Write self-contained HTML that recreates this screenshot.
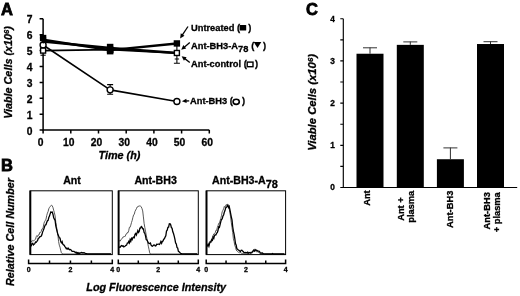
<!DOCTYPE html>
<html><head><meta charset="utf-8"><style>
html,body{margin:0;padding:0;background:#fff;}
svg{display:block;}
text,tspan{font-family:"Liberation Sans",Arial,sans-serif;font-weight:bold;fill:#000;stroke:#000;stroke-width:0.3px;}
.L{font-size:16.5px;stroke:#000;stroke-width:0.8px;}
.tA{font-size:10.3px;}
.tB{font-size:7px;}
.tC{font-size:8.3px;}
.lab{font-size:10.8px;font-style:italic;}
.leg{font-size:9.3px;}
.ttl{font-size:10.6px;}
.bl{font-size:9.3px;}
.ax{fill:none;stroke:#000;stroke-width:1.5;}
.eb{fill:none;stroke:#000;stroke-width:1.1;}
</style></head><body>
<svg width="520" height="296" viewBox="0 0 520 296">
<text x="1" y="14.6" class="L">A</text>
<text x="1" y="171" class="L">B</text>
<text x="306" y="15.2" class="L">C</text>
<path d="M43.1 18.8V130.1H209.3" class="ax"/>
<path d="M39.6 130.1H43.1M39.6 114.2H43.1M39.6 98.3H43.1M39.6 82.4H43.1M39.6 66.5H43.1M39.6 50.6H43.1M39.6 34.7H43.1M39.6 18.8H43.1M43.1 130.1V133.4M70.8 130.1V133.4M98.5 130.1V133.4M126.2 130.1V133.4M153.9 130.1V133.4M181.6 130.1V133.4M209.3 130.1V133.4" class="ax"/>
<text x="32.6" y="134.7" class="tA" text-anchor="end">0</text>
<text x="32.6" y="118.8" class="tA" text-anchor="end">1</text>
<text x="32.6" y="102.9" class="tA" text-anchor="end">2</text>
<text x="32.6" y="87" class="tA" text-anchor="end">3</text>
<text x="32.6" y="71.1" class="tA" text-anchor="end">4</text>
<text x="32.6" y="55.2" class="tA" text-anchor="end">5</text>
<text x="32.6" y="39.3" class="tA" text-anchor="end">6</text>
<text x="32.6" y="23.4" class="tA" text-anchor="end">7</text>
<text x="40.7" y="145.9" class="tA" text-anchor="middle">0</text>
<text x="68.8" y="145.9" class="tA" text-anchor="middle">10</text>
<text x="96.5" y="145.9" class="tA" text-anchor="middle">20</text>
<text x="124.2" y="145.9" class="tA" text-anchor="middle">30</text>
<text x="151.9" y="145.9" class="tA" text-anchor="middle">40</text>
<text x="179.6" y="145.9" class="tA" text-anchor="middle">50</text>
<text x="207.3" y="145.9" class="tA" text-anchor="middle">60</text>
<text x="119.5" y="158.5" class="lab" text-anchor="middle">Time (h)</text>
<text transform="translate(12.2 72.5) rotate(-90)" class="lab" text-anchor="middle">Viable Cells (x10<tspan dy="-3.5" font-size="7.6">6</tspan><tspan dy="3.5">)</tspan></text>
<polyline points="43.1,45.03 110.13,89.87 176.89,101.48" fill="none" stroke="#000" stroke-width="1.6" stroke-linejoin="round"/>
<polyline points="43.1,50.6 110.13,49.65 176.89,52.98" fill="none" stroke="#000" stroke-width="1.8" stroke-linejoin="round"/>
<polyline points="43.1,41.54 110.13,48.06 176.89,52.98" fill="none" stroke="#000" stroke-width="2.4" stroke-linejoin="round"/>
<polyline points="43.1,39.79 110.13,50.12 176.89,43.44" fill="none" stroke="#000" stroke-width="2.4" stroke-linejoin="round"/>
<path d="M107.13 84.6H113.13M110.13 84.6V94.3M107.13 94.3H113.13" class="eb"/>
<path d="M176.89 45V63.2M174.69 59H179.09M173.89 63.2H179.89" class="eb"/>
<circle cx="43.1" cy="45.03" r="3.0" fill="#fff" stroke="#000" stroke-width="1.4"/>
<circle cx="110.13" cy="89.87" r="3.0" fill="#fff" stroke="#000" stroke-width="1.4"/>
<circle cx="176.89" cy="101.48" r="3.0" fill="#fff" stroke="#000" stroke-width="1.4"/>
<path d="M39.6 37.78H46.6L43.1 44.08Z" fill="#000"/>
<rect x="40.6" y="48.1" width="5" height="5" fill="#fff" stroke="#000" stroke-width="1.4"/>
<rect x="107.63" y="47.15" width="5" height="5" fill="#fff" stroke="#000" stroke-width="1.4"/>
<rect x="174.39" y="50.48" width="5" height="5" fill="#fff" stroke="#000" stroke-width="1.4"/>
<rect x="39.9" y="34.84" width="6.4" height="6.4" fill="#000"/>
<rect x="106.93" y="46.92" width="6.4" height="6.4" fill="#000"/>
<rect x="173.69" y="40.24" width="6.4" height="6.4" fill="#000"/>
<path d="M40.5 55.2H45.7" class="eb"/>
<rect x="106.88" y="43.8" width="6.5" height="10.6" fill="#000"/>
<path d="M188 26.5L182.09 35.4" stroke="#000" stroke-width="1.3" fill="none"/><path d="M180.1 38.4L180.81 33.35L184.48 35.78Z" fill="#000"/>
<path d="M189.8 42.6L183.98 47.41" stroke="#000" stroke-width="1.3" fill="none"/><path d="M181.2 49.7L183.35 45.07L186.15 48.47Z" fill="#000"/>
<path d="M189.8 62.4L184.47 58.37" stroke="#000" stroke-width="1.3" fill="none"/><path d="M181.6 56.2L186.6 57.22L183.94 60.73Z" fill="#000"/>
<path d="M189.2 100.8L185.49 101" stroke="#000" stroke-width="1.3" fill="none"/><path d="M181.9 101.2L186.38 98.85L186.61 103.05Z" fill="#000"/>
<text x="191" y="30.9" class="leg">Untreated (</text><rect x="239.6" y="25" width="6.6" height="5.5" rx="0.5" fill="#000"/><text x="248.2" y="30.9" class="leg">)</text>
<text x="191" y="48.5" class="leg">Ant-BH3-A<tspan dy="3.2">78</tspan></text><text x="251.3" y="48.5" class="leg">(</text><path d="M253.7 42H261.3L257.5 47.9Z" fill="#000"/><text x="263" y="48.5" class="leg">)</text>
<text x="191" y="67.4" class="leg">Ant-control (</text><rect x="247.2" y="62.1" width="5.8" height="4.6" fill="#fff" stroke="#000" stroke-width="1.4"/><text x="254.9" y="67.4" class="leg">)</text>
<text x="190" y="104.3" class="leg">Ant-BH3 (</text><ellipse cx="236.2" cy="101.8" rx="3.1" ry="2.6" fill="none" stroke="#000" stroke-width="1.6"/><text x="241.9" y="104.3" class="leg">)</text>
<text x="72" y="184" class="ttl" text-anchor="middle">Ant</text>
<path d="M30.6 240.18 L31.3 241.73 L32 241.57 L32.7 240.43 L33.4 240.8 L34.1 240.32 L34.8 240.03 L35.5 239.34 L36.2 236.74 L36.9 235.59 L37.6 236.55 L38.3 234.96 L39 234.99 L39.7 232.5 L40.4 232.45 L41.1 231.77 L41.8 229.2 L42.5 229.14 L43.2 227.29 L43.9 223.53 L44.6 221.55 L45.3 220.49 L46 219.1 L46.7 215.65 L47.4 213.18 L48.1 211.56 L48.8 208.73 L49.5 207.39 L50.2 206.42 L50.9 205.73 L51.6 205.17 L52.3 205.99 L53 207.64 L53.7 210.38 L54.4 212.79 L55.1 215.97 L55.8 222.41 L56.5 226.53 L57.2 231.61 L57.9 235.23 L58.6 241.55 L59.3 245.15 L60 247.2 L60.7 250.24 L61.4 252.71 L62.1 253.63 L62.8 253.96 L63.5 254 L64.2 254 L64.9 254 L65.6 254 L66.3 254 L67 254 L67.7 254 L68.4 254 L69.1 254 L69.8 254 L70.5 254 L71.2 254 L71.9 254 L72.6 254 L73.3 254 L74 254 L74.7 254 L75.4 254 L76.1 254 L76.8 254 L77.5 254 L78.2 254 L78.9 254 L79.6 254 L80.3 254 L81 254 L81.7 254 L82.4 254 L83.1 254 L83.8 254 L84.5 254 L85.2 254 L85.9 254 L86.6 254 L87.3 254 L88 254 L88.7 254 L89.4 254 L90.1 254 L90.8 254 L91.5 254 L92.2 254 L92.9 254 L93.6 254 L94.3 254 L95 254 L95.7 254 L96.4 254 L97.1 254 L97.8 254 L98.5 254 L99.2 254 L99.9 254 L100.6 254 L101.3 254 L102 254 L102.7 254 L103.4 254 L104.1 254 L104.8 254 L105.5 254 L106.2 254 L106.9 254 L107.6 254 L108.3 254 L109 254 L109.7 254 L110.4 254 L111.1 254" fill="none" stroke="#3a3a3a" stroke-width="0.85"/>
<path d="M30.6 246.06 L31.3 245.85 L32 243.49 L32.7 243.35 L33.4 244.97 L34.1 244.35 L34.8 243.68 L35.5 242.07 L36.2 242.19 L36.9 241.43 L37.6 240.51 L38.3 238.29 L39 238.07 L39.7 236.86 L40.4 236.7 L41.1 236.31 L41.8 234.9 L42.5 232.34 L43.2 230.64 L43.9 228.67 L44.6 226.49 L45.3 224.93 L46 224.66 L46.7 222.52 L47.4 220.82 L48.1 220.43 L48.8 217.54 L49.5 216.06 L50.2 213.66 L50.9 211.91 L51.6 212.25 L52.3 212.05 L53 214.45 L53.7 217.78 L54.4 219.15 L55.1 220.5 L55.8 225.82 L56.5 228.78 L57.2 231.58 L57.9 234.54 L58.6 236.05 L59.3 237.78 L60 238.06 L60.7 241.5 L61.4 242.79 L62.1 241.67 L62.8 244.17 L63.5 244.85 L64.2 245.22 L64.9 246.56 L65.6 247.4 L66.3 248.7 L67 248.15 L67.7 248.97 L68.4 248.23 L69.1 249.43 L69.8 249.78 L70.5 249.46 L71.2 250.15 L71.9 251.2 L72.6 251.32 L73.3 251.37 L74 251.39 L74.7 251.88 L75.4 252.62 L76.1 252.15 L76.8 253.24 L77.5 252.59 L78.2 253.45 L78.9 252.77 L79.6 253.49 L80.3 253.02 L81 252.59 L81.7 252.52 L82.4 252.76 L83.1 252.86 L83.8 252.74 L84.5 252.83 L85.2 253.35 L85.9 253.53 L86.6 253.71 L87.3 253.88 L88 254 L88.7 254 L89.4 254 L90.1 254 L90.8 254 L91.5 254 L92.2 254 L92.9 254 L93.6 254 L94.3 254 L95 254 L95.7 254 L96.4 254 L97.1 254 L97.8 254 L98.5 254 L99.2 254 L99.9 254 L100.6 254 L101.3 254 L102 254 L102.7 254 L103.4 254 L104.1 254 L104.8 254 L105.5 254 L106.2 254 L106.9 254 L107.6 254 L108.3 254 L109 254 L109.7 254 L110.4 254 L111.1 254" fill="none" stroke="#000" stroke-width="1.3"/>
<rect x="30" y="190.8" width="82.3" height="63.8" fill="none" stroke="#000" stroke-width="1"/>
<path d="M30.4 190.8V254.6" stroke="#000" stroke-width="1.8"/>
<path d="M28.6 259.6V263.5H112.3V259.6M49.52 260.5V263.5M70.45 260.5V263.5M91.38 260.5V263.5" class="ax"/>
<text x="28.6" y="271.9" class="tB" text-anchor="middle">0</text>
<text x="70.45" y="271.9" class="tB" text-anchor="middle">2</text>
<text x="112.3" y="271.9" class="tB" text-anchor="middle">4</text>
<text x="155.6" y="184" class="ttl" text-anchor="middle">Ant-BH3</text>
<path d="M118.9 240.9 L119.6 240.8 L120.3 241.04 L121 239.42 L121.7 238.87 L122.4 238.37 L123.1 236.8 L123.8 236.83 L124.5 236.51 L125.2 236.36 L125.9 234.28 L126.6 234.03 L127.3 232.56 L128 232.74 L128.7 230.74 L129.4 227.32 L130.1 227.29 L130.8 225.15 L131.5 222.48 L132.2 220.38 L132.9 217.31 L133.6 214.97 L134.3 214.15 L135 211.33 L135.7 210.03 L136.4 208.73 L137.1 207.04 L137.8 206.92 L138.5 206.03 L139.2 206.4 L139.9 205.55 L140.6 206.29 L141.3 207 L142 208.61 L142.7 210.91 L143.4 216.91 L144.1 223.31 L144.8 227.37 L145.5 231.05 L146.2 235.04 L146.9 238.43 L147.6 242.25 L148.3 246.14 L149 249.29 L149.7 252.83 L150.4 254 L151.1 254 L151.8 254 L152.5 254 L153.2 254 L153.9 254 L154.6 254 L155.3 254 L156 254 L156.7 254 L157.4 254 L158.1 254 L158.8 254 L159.5 254 L160.2 254 L160.9 254 L161.6 254 L162.3 254 L163 254 L163.7 254 L164.4 254 L165.1 254 L165.8 254 L166.5 254 L167.2 254 L167.9 254 L168.6 254 L169.3 254 L170 254 L170.7 254 L171.4 254 L172.1 254 L172.8 254 L173.5 254 L174.2 254 L174.9 254 L175.6 254 L176.3 254 L177 254 L177.7 254 L178.4 254 L179.1 254 L179.8 254 L180.5 254 L181.2 254 L181.9 254 L182.6 254 L183.3 254 L184 254 L184.7 254 L185.4 254 L186.1 254 L186.8 254 L187.5 254 L188.2 254 L188.9 254 L189.6 254 L190.3 254 L191 254 L191.7 254 L192.4 254 L193.1 254 L193.8 254 L194.5 254 L195.2 254 L195.9 254 L196.6 254 L197.3 254" fill="none" stroke="#3a3a3a" stroke-width="0.85"/>
<path d="M118.9 246.95 L119.6 247.26 L120.3 247.17 L121 245.94 L121.7 245.51 L122.4 246.14 L123.1 245.81 L123.8 246.88 L124.5 246.44 L125.2 245.96 L125.9 245.43 L126.6 245.09 L127.3 243.08 L128 243.05 L128.7 241.5 L129.4 242.88 L130.1 239.69 L130.8 241.3 L131.5 238.4 L132.2 239.54 L132.9 237.75 L133.6 237.14 L134.3 237.58 L135 234.19 L135.7 233.37 L136.4 235 L137.1 232.87 L137.8 230.7 L138.5 232.47 L139.2 231.46 L139.9 228.12 L140.6 228.08 L141.3 226.49 L142 227.08 L142.7 228.81 L143.4 228.81 L144.1 232.44 L144.8 233.2 L145.5 235.91 L146.2 239.59 L146.9 239.89 L147.6 241.28 L148.3 242.86 L149 243.31 L149.7 243.57 L150.4 243.03 L151.1 245.06 L151.8 245.92 L152.5 246.17 L153.2 245.61 L153.9 245.03 L154.6 245.15 L155.3 245.95 L156 245.8 L156.7 244.27 L157.4 244.28 L158.1 244.19 L158.8 244.09 L159.5 244.45 L160.2 243.25 L160.9 241.53 L161.6 243.18 L162.3 241.41 L163 240.98 L163.7 239.26 L164.4 238.78 L165.1 237.09 L165.8 235.78 L166.5 231.1 L167.2 230.26 L167.9 227.24 L168.6 227.19 L169.3 223.78 L170 223.67 L170.7 224.74 L171.4 227.59 L172.1 228.26 L172.8 231.83 L173.5 233.47 L174.2 236.16 L174.9 239.16 L175.6 242.97 L176.3 243.96 L177 247.35 L177.7 248.09 L178.4 251.33 L179.1 251.8 L179.8 252.43 L180.5 253.3 L181.2 253.57 L181.9 253.72 L182.6 253.78 L183.3 253.81 L184 253.85 L184.7 253.95 L185.4 254 L186.1 254 L186.8 254 L187.5 254 L188.2 254 L188.9 254 L189.6 254 L190.3 254 L191 254 L191.7 254 L192.4 254 L193.1 254 L193.8 254 L194.5 254 L195.2 254 L195.9 254 L196.6 254 L197.3 254" fill="none" stroke="#000" stroke-width="1.3"/>
<rect x="118.3" y="190.8" width="80" height="63.8" fill="none" stroke="#000" stroke-width="1"/>
<path d="M118.7 190.8V254.6" stroke="#000" stroke-width="1.8"/>
<path d="M118.3 259.6V263.5H198.3V259.6M138.3 260.5V263.5M158.3 260.5V263.5M178.3 260.5V263.5" class="ax"/>
<text x="118.3" y="271.9" class="tB" text-anchor="middle">0</text>
<text x="158.3" y="271.9" class="tB" text-anchor="middle">2</text>
<text x="198.3" y="271.9" class="tB" text-anchor="middle">4</text>
<text x="245" y="184" class="ttl" text-anchor="middle">Ant-BH3-A<tspan dy="4.2" font-size="11">78</tspan></text>
<path d="M206.8 243.37 L207.5 244.21 L208.2 243.83 L208.9 243.06 L209.6 241.67 L210.3 241.81 L211 240.68 L211.7 238.82 L212.4 237.53 L213.1 235.65 L213.8 233.87 L214.5 233.48 L215.2 232.75 L215.9 230.31 L216.6 230.42 L217.3 227.51 L218 225.7 L218.7 223.34 L219.4 223.4 L220.1 220.59 L220.8 218.43 L221.5 215.37 L222.2 211.78 L222.9 210.34 L223.6 208.82 L224.3 206.48 L225 207.32 L225.7 205.34 L226.4 204.48 L227.1 205.88 L227.8 204.7 L228.5 207.54 L229.2 208.67 L229.9 212.64 L230.6 216.85 L231.3 222.6 L232 227.59 L232.7 232.29 L233.4 238.81 L234.1 241.46 L234.8 245.58 L235.5 247.06 L236.2 249.89 L236.9 250.99 L237.6 251.63 L238.3 252.16 L239 252.38 L239.7 252.85 L240.4 252.57 L241.1 253.1 L241.8 253.28 L242.5 253.41 L243.2 253.51 L243.9 253.61 L244.6 253.71 L245.3 253.79 L246 253.85 L246.7 253.9 L247.4 253.92 L248.1 253.91 L248.8 253.87 L249.5 253.8 L250.2 253.57 L250.9 253.45 L251.6 252.45 L252.3 252.75 L253 252.33 L253.7 251.44 L254.4 251.06 L255.1 250.96 L255.8 250.95 L256.5 251.92 L257.2 251.72 L257.9 251.8 L258.6 252.2 L259.3 253.1 L260 253.22 L260.7 253.5 L261.4 253.73 L262.1 253.94 L262.8 254 L263.5 254 L264.2 254 L264.9 254 L265.6 254 L266.3 254 L267 254 L267.7 254 L268.4 254 L269.1 254 L269.8 254 L270.5 254 L271.2 254 L271.9 254 L272.6 254 L273.3 254 L274 254 L274.7 254 L275.4 254 L276.1 254 L276.8 254 L277.5 254 L278.2 254 L278.9 254 L279.6 254 L280.3 254 L281 254 L281.7 254 L282.4 254 L283.1 254 L283.8 254 L284.5 254" fill="none" stroke="#3a3a3a" stroke-width="0.85"/>
<path d="M206.8 247.03 L207.5 245.05 L208.2 244.52 L208.9 246.31 L209.6 243.33 L210.3 241.89 L211 242.06 L211.7 239.88 L212.4 240.34 L213.1 237.23 L213.8 238.29 L214.5 235.24 L215.2 234.98 L215.9 234.94 L216.6 233.15 L217.3 232.67 L218 230.58 L218.7 226.86 L219.4 227.43 L220.1 224.52 L220.8 221.64 L221.5 219.2 L222.2 219.04 L222.9 216.08 L223.6 215.01 L224.3 212.26 L225 210.61 L225.7 207.82 L226.4 207.2 L227.1 206.31 L227.8 205.05 L228.5 207.42 L229.2 206.41 L229.9 209.64 L230.6 213.41 L231.3 216.79 L232 219.81 L232.7 226.77 L233.4 231.14 L234.1 234.39 L234.8 238.53 L235.5 243.63 L236.2 245.14 L236.9 248.89 L237.6 249.3 L238.3 250.05 L239 250.28 L239.7 250.89 L240.4 251.46 L241.1 250.28 L241.8 250.17 L242.5 251.05 L243.2 251.54 L243.9 252.45 L244.6 252.56 L245.3 252.53 L246 252.9 L246.7 252.75 L247.4 252.21 L248.1 253.33 L248.8 252.53 L249.5 252.62 L250.2 252.54 L250.9 253.05 L251.6 252.79 L252.3 251.75 L253 251.06 L253.7 250.08 L254.4 250.94 L255.1 249.54 L255.8 250.23 L256.5 250.22 L257.2 250.59 L257.9 251.04 L258.6 251.18 L259.3 251.36 L260 252.39 L260.7 253.03 L261.4 253.11 L262.1 252.83 L262.8 253.41 L263.5 253.62 L264.2 253.81 L264.9 253.96 L265.6 254 L266.3 254 L267 254 L267.7 254 L268.4 254 L269.1 254 L269.8 254 L270.5 254 L271.2 254 L271.9 253.81 L272.6 253.5 L273.3 253.93 L274 254 L274.7 254 L275.4 254 L276.1 254 L276.8 254 L277.5 254 L278.2 254 L278.9 254 L279.6 254 L280.3 254 L281 254 L281.7 254 L282.4 254 L283.1 254 L283.8 254 L284.5 254" fill="none" stroke="#000" stroke-width="1.3"/>
<rect x="206.2" y="190.8" width="79.4" height="63.8" fill="none" stroke="#000" stroke-width="1"/>
<path d="M206.6 190.8V254.6" stroke="#000" stroke-width="1.8"/>
<path d="M206.2 259.6V263.5H285.6V259.6M226.05 260.5V263.5M245.9 260.5V263.5M265.75 260.5V263.5" class="ax"/>
<text x="206.2" y="271.9" class="tB" text-anchor="middle">0</text>
<text x="245.9" y="271.9" class="tB" text-anchor="middle">2</text>
<text x="285.6" y="271.9" class="tB" text-anchor="middle">4</text>
<text x="156.2" y="291" class="lab" text-anchor="middle">Log Fluorescence Intensity</text>
<text transform="translate(14.2 232) rotate(-90)" class="lab" text-anchor="middle">Relative Cell Number</text>
<path d="M343.3 18.7V187.5H517.2" class="ax" style="stroke-width:1.15"/>
<path d="M340.3 187.5H343.3M340.3 166.4H343.3M340.3 145.3H343.3M340.3 124.2H343.3M340.3 103.1H343.3M340.3 82H343.3M340.3 60.9H343.3M340.3 39.8H343.3M340.3 18.7H343.3" class="ax" style="stroke-width:1.15"/>
<text x="334.8" y="190.4" class="tC" text-anchor="end">0</text>
<text x="334.8" y="148.2" class="tC" text-anchor="end">1</text>
<text x="334.8" y="106" class="tC" text-anchor="end">2</text>
<text x="334.8" y="63.8" class="tC" text-anchor="end">3</text>
<text x="334.8" y="21.6" class="tC" text-anchor="end">4</text>
<rect x="356.5" y="53.73" width="27" height="133.77" fill="#000"/>
<path d="M370 53.73V47.5" stroke="#222" stroke-width="0.95"/><path d="M363 47.8H377" stroke="#333" stroke-width="1.0"/>
<rect x="396.8" y="44.86" width="27" height="142.64" fill="#000"/>
<path d="M410.3 44.86V41.6" stroke="#222" stroke-width="0.95"/><path d="M403.3 41.9H417.3" stroke="#333" stroke-width="1.0"/>
<rect x="436.9" y="159.23" width="27" height="28.27" fill="#000"/>
<path d="M450.4 159.23V147.6" stroke="#222" stroke-width="0.95"/><path d="M443.4 147.9H457.4" stroke="#333" stroke-width="1.0"/>
<rect x="477" y="44.02" width="27" height="143.48" fill="#000"/>
<path d="M490.5 44.02V41.4" stroke="#222" stroke-width="0.95"/><path d="M483.5 41.7H497.5" stroke="#333" stroke-width="1.0"/>
<text transform="translate(316.3 102.4) rotate(-90)" class="lab" style="font-size:11.3px" text-anchor="middle">Viable Cells (x10<tspan dy="-3.5" font-size="7.9">6</tspan><tspan dy="3.5">)</tspan></text>
<text transform="translate(369.8 190.3) rotate(-90)" class="bl" text-anchor="end">Ant</text>
<text transform="translate(403.8 220.8) rotate(-90)" class="bl" text-anchor="start">Ant +</text>
<text transform="translate(413.9 190.7) rotate(-90)" class="bl" text-anchor="end">plasma</text>
<text transform="translate(452.7 190.7) rotate(-90)" class="bl" text-anchor="end">Ant-BH3</text>
<text transform="translate(490.3 192.2) rotate(-90)" class="bl" text-anchor="end">Ant-BH3</text>
<text transform="translate(500.4 192.2) rotate(-90)" class="bl" text-anchor="end">+ plasma</text>
</svg>
</body></html>
